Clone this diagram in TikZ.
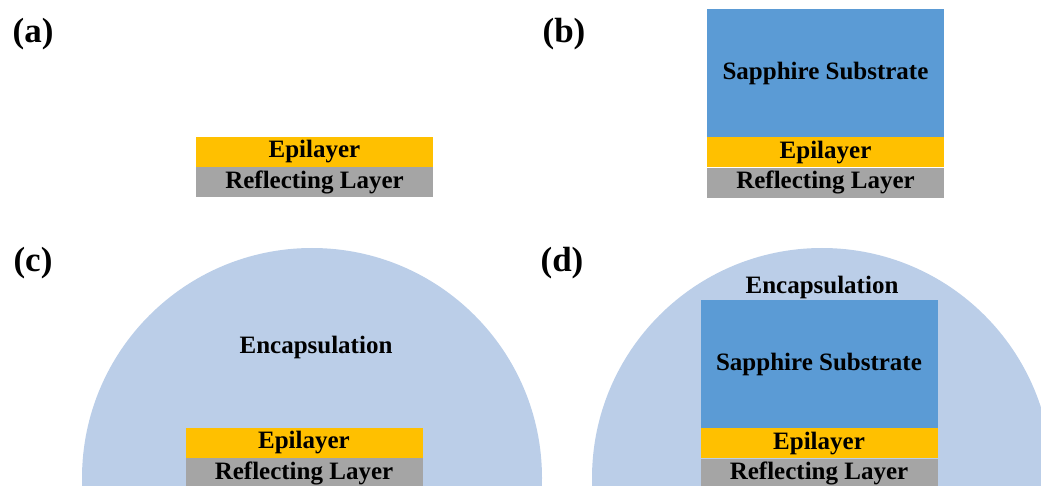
\documentclass[tikz,border=0pt]{standalone}
\usepackage{fontspec}
\setmainfont{LiberationSerif}[Extension=.ttf, UprightFont=*-Regular, BoldFont=*-Bold]
\usetikzlibrary{positioning}

\definecolor{sapphireblue}{RGB}{91,155,213}
\definecolor{epigold}{RGB}{255,192,0}
\definecolor{reflgray}{RGB}{165,165,165}
\definecolor{encapblue}{RGB}{187,206,232}

\tikzset{
  layer/.style={rectangle, inner sep=0pt, minimum width=237pt, minimum height=30pt,
    font=\rmfamily\bfseries\fontsize{25}{25}\selectfont},
  epilayer/.style={layer, fill=epigold},
  reflecting/.style={layer, fill=reflgray},
  substrate/.style={layer, fill=sapphireblue, minimum height=128pt},
  encaptext/.style={font=\rmfamily\bfseries\fontsize{25}{25}\selectfont},
  panellabel/.style={font=\rmfamily\bfseries\fontsize{35}{35}\selectfont},
  encap/.style={fill=encapblue}
}

\begin{document}
\begin{tikzpicture}[x=1pt,y=-1pt]
	\useasboundingbox (0,0) rectangle (1041,486);
	\clip (0,0) rectangle (1041,486);
	% panel labels
	\node[panellabel] (labela) at (33,34) {(a)};
	\node[panellabel] (labelb) at (564,34) {(b)};
	\node[panellabel] (labelc) at (33,263) {(c)};
	\node[panellabel] (labeld) at (562,263) {(d)};
	% (a)
	\node[epilayer] (epia) at (314.5,152) {Epilayer};
	\node[reflecting, below=0pt of epia] (refla) {Reflecting Layer};
	% (b)
	\node[substrate] (subb) at (825.5,73) {Sapphire Substrate};
	\node[epilayer, below=0pt of subb] (epib) {Epilayer};
	\node[reflecting, below=0pt of epib] (reflb) {Reflecting Layer};
	% (c)
	\fill[encap] (312,478) circle[radius=230pt];
	\node[encaptext] (encapc) at (316,347) {Encapsulation};
	\node[epilayer] (epic) at (304,443) {Epilayer};
	\node[reflecting, below=0pt of epic] (reflc) {Reflecting Layer};
	% (d)
	\fill[encap] (822,478) circle[radius=230pt];
	\node[encaptext] (encapd) at (822,287) {Encapsulation};
	\node[substrate] (subd) at (819,364) {Sapphire Substrate};
	\node[epilayer, below=0pt of subd] (epid) {Epilayer};
	\node[reflecting, below=0pt of epid] (refld) {Reflecting Layer};
\end{tikzpicture}
\end{document}
